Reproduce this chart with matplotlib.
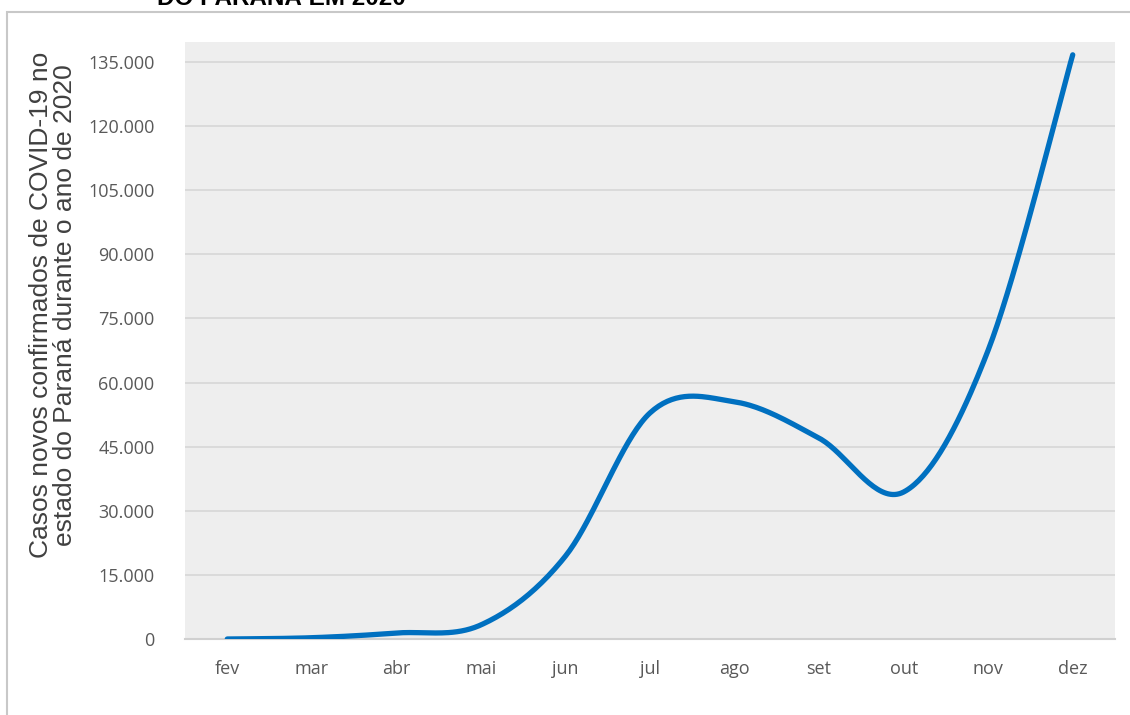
import matplotlib
matplotlib.use("Agg")
import matplotlib.pyplot as plt
import numpy as np
from matplotlib.patches import Rectangle
from matplotlib.ticker import FuncFormatter, MultipleLocator


MONTHS = ["fev", "mar", "abr", "mai", "jun", "jul", "ago", "set", "out", "nov", "dez"]
NEW_CASES = [0, 300, 1400, 3300, 19400, 52900, 55500, 47000, 34400, 67600, 136700]

Y_TICKS_STEP = 15000
Y_MAX = 139700

LINE_COLOR = "#0070C0"
PLOT_BG = "#EEEEEE"
GRID_COLOR = "#D6D6D6"
TICK_COLOR = "#595959"


def excel_smooth(x, y, steps=40):
    # Excel-style smoothed line: cubic Bezier through each point,
    # control points from neighbours (Catmull-Rom, tension 1/6)
    pts = np.column_stack([x, y]).astype(float)
    n = len(pts)
    out = [pts[0]]
    t = np.linspace(0, 1, steps)[1:, None]
    for i in range(n - 1):
        p0 = pts[max(i - 1, 0)]
        p1 = pts[i]
        p2 = pts[i + 1]
        p3 = pts[min(i + 2, n - 1)]
        c1 = p1 + (p2 - p0) / 6.0
        c2 = p2 - (p3 - p1) / 6.0
        seg = ((1 - t) ** 3) * p1 + 3 * ((1 - t) ** 2) * t * c1 \
            + 3 * (1 - t) * t ** 2 * c2 + t ** 3 * p2
        out.extend(seg)
    out = np.array(out)
    return out[:, 0], out[:, 1]


def thousands(v, _pos):
    return f"{int(round(v)):,}".replace(",", ".")


def main():
    W, H = 1130, 715
    fig = plt.figure(figsize=(W / 100, H / 100), dpi=100)

    # outer chart frame (runs off the right and bottom of the picture)
    fig.patches.append(Rectangle((7 / W, -0.05), 1.2, 1 - 11.5 / H + 0.05,
                                 transform=fig.transFigure, fill=False,
                                 edgecolor="#C8C8C8", linewidth=1.5))

    # cut-off title from the page above
    fig.text(281 / W, 1 - 5 / H, "DO PARANÁ EM 2020", ha="center", va="baseline",
             fontsize=17.5, fontweight="bold", family="Liberation Sans", color="black")

    ax = fig.add_axes([185 / W, 1 - 639 / H, (1115 - 185) / W, (639 - 42) / H])
    ax.set_facecolor(PLOT_BG)

    x = np.arange(len(MONTHS))
    sx, sy = excel_smooth(x, NEW_CASES)
    ax.plot(sx, sy, color=LINE_COLOR, linewidth=3.8, solid_capstyle="round",
            solid_joinstyle="round", zorder=3)

    ax.set_xlim(-0.5, len(MONTHS) - 0.5)
    ax.set_ylim(0, Y_MAX)
    ax.yaxis.set_major_locator(MultipleLocator(Y_TICKS_STEP))
    ax.yaxis.set_major_formatter(FuncFormatter(thousands))
    ax.set_xticks(x)
    ax.set_xticklabels(MONTHS)

    ax.grid(axis="y", color=GRID_COLOR, linewidth=1.2, zorder=1)
    ax.set_axisbelow(True)
    for side in ["top", "right", "left"]:
        ax.spines[side].set_visible(False)
    ax.spines["bottom"].set_color("#D0D0D0")
    ax.spines["bottom"].set_linewidth(1.5)

    ax.tick_params(axis="both", length=0, labelcolor=TICK_COLOR, labelsize=13)
    ax.tick_params(axis="y", pad=22)
    ax.tick_params(axis="x", pad=15)
    for lbl in ax.get_xticklabels() + ax.get_yticklabels():
        lbl.set_family("Open Sans")

    fig.text(53 / W, 1 - 305 / H,
             "Casos novos confirmados de COVID-19 no\nestado do Paraná durante o ano de 2020",
             rotation=90, ha="center", va="center", multialignment="center",
             fontsize=19, family="Liberation Sans", color="#404040", linespacing=1.0)

    fig.savefig("out.png", dpi=100, facecolor="white")
    plt.close(fig)


if __name__ == "__main__":
    main()
